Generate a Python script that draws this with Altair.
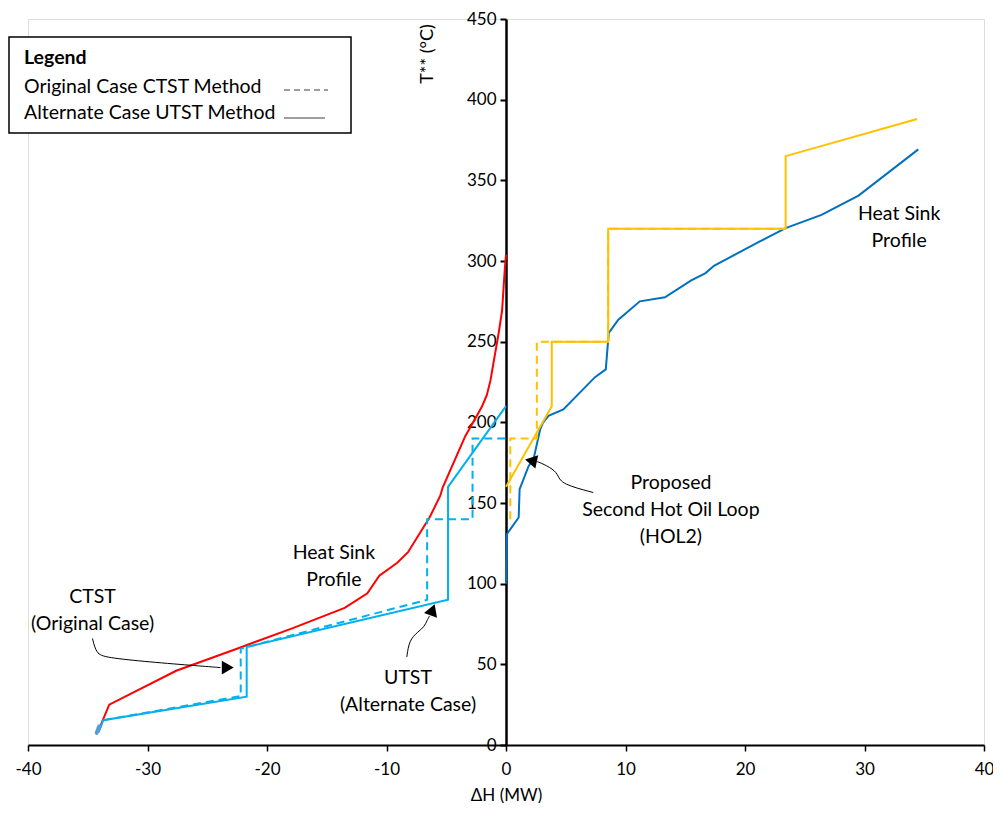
import altair as alt
import pandas as pd

# ---- data ----
hot_x = [-34.1, -33.2, -27.6, -22.4, -18.0, -13.5, -11.6, -10.6, -9.1, -8.2, -6.4, -5.5, -5.3, -3.4, -2.3, -2.0, -1.6, -1.3, -0.6, -0.33, -0.1, 0.0]
hot_y = [9, 25, 46, 60, 72, 85, 94, 105, 113, 119.5, 141, 154.5, 159.6, 191.6, 206, 210, 217, 226, 256, 269, 295, 304]

sink_x = [0.0, 0.08, 1.06, 1.14, 1.9, 2.3, 2.86, 3.1, 3.55, 4.8, 7.45, 8.35, 8.6, 9.4, 11.2, 13.3, 15.5, 16.7, 17.4, 21.2, 21.9, 23.4, 26.4, 29.5, 34.5]
sink_y = [100, 130.8, 141, 158.6, 173, 177, 195.7, 199.8, 204, 208, 228, 232.8, 255.4, 263.6, 275, 277.5, 288, 292.5, 297, 312, 314.6, 320.4, 328.6, 340.5, 369.2]

utst_cold_x = [-34.1, -33.7, -21.7, -21.7, -4.85, -4.85, 0.0]
utst_cold_y = [8, 15.4, 29.9, 60.8, 90, 160, 210]
ctst_cold_x = [-34.1, -33.7, -22.2, -22.2, -6.6, -6.6, -2.8, -2.8, 0.0]
ctst_cold_y = [8, 15.4, 30.3, 59.7, 90, 140, 140, 190, 190]

utst_hol_x = [0.0, 3.83, 3.83, 8.55, 8.55, 23.4, 23.4, 34.4]
utst_hol_y = [160, 210, 250, 250, 320, 320, 365, 388]
ctst_hol_x = [0.36, 0.36, 2.58, 2.58, 8.55, 8.55, 23.4]
ctst_hol_y = [140, 190, 190, 250, 250, 320, 320]

x_ticks = [-40, -30, -20, -10, 0, 10, 20, 30, 40]
y_ticks = [0, 50, 100, 150, 200, 250, 300, 350, 400, 450]

labels_text = ["Heat Sink\nProfile", "CTST\n(Original Case)", "UTST\n(Alternate Case)",
               "Proposed\nSecond Hot Oil Loop\n(HOL2)", "Heat Sink\nProfile"]
labels_x = [-14.4, -34.6, -8.2, 13.8, 32.9]
labels_y = [118.8, 92.0, 41.8, 162.1, 329.0]

arrow1_x = [-34.6, -34.3, -33.5, -29.9, -25.7, -23.9]
arrow1_y = [66, 56.7, 54.2, 51.5, 49.0, 48.0]
arrow2_x = [-8.3, -8.1, -7.4, -6.85, -6.6, -6.4]
arrow2_y = [54.6, 64.9, 70.0, 73.1, 77.3, 80.0]
arrow3_x = [7.3, 4.66, 4.38, 3.97, 2.85, 2.6]
arrow3_y = [156.5, 161.7, 166.9, 171.0, 175.1, 175.6]
head_x = [-23.45, -6.2, 2.25]
head_y = [48.0, 82.6, 176.0]
head_angle = [90, 20, 282]

legend_title = "Legend"
legend_items = ["Original Case CTST Method", "Alternate Case UTST Method"]

# ---- tables ----
def series(name, xs, ys, dash):
    return pd.DataFrame({"x": xs, "y": ys, "s": name, "i": range(len(xs)), "dash": dash})

lines = pd.concat([
    series("hot", hot_x, hot_y, "solid"),
    series("cold_ctst", ctst_cold_x, ctst_cold_y, "dash"),
    series("cold_utst", utst_cold_x, utst_cold_y, "solid"),
    series("sink", sink_x, sink_y, "solid"),
    series("hol_ctst", ctst_hol_x, ctst_hol_y, "dash"),
    series("hol_utst", utst_hol_x, utst_hol_y, "solid"),
], ignore_index=True)

color_scale = alt.Scale(
    domain=["hot", "cold_ctst", "cold_utst", "sink", "hol_ctst", "hol_utst"],
    range=["#FF0000", "#00B0F0", "#00B0F0", "#0070C0", "#FFC000", "#FFC000"],
)

FONT = "Lato"
TXT = 19.5
W, H = 956, 726
TOP = 11

xs = alt.Scale(domain=[-40, 40], nice=False, zero=False)
ys = alt.Scale(domain=[0, 450], nice=False)

x_axis = alt.Axis(values=x_ticks, labelExpr="datum.value", title="ΔH (MW)", grid=False, labelFlush=False,
                  domainColor="black", domainWidth=2, tickColor="black", tickSize=6, tickWidth=1.5,
                  labelFont=FONT, labelFontSize=17, labelColor="black", labelPadding=10,
                  titleFont=FONT, titleFontSize=17, titleFontWeight="normal", titleColor="black",
                  titlePadding=10)
y_axis = alt.Axis(values=y_ticks, title="", grid=False, offset=-W / 2, labelFlush=False,
                  domainColor="black", domainWidth=2.5, tickColor="black", tickSize=6, tickWidth=2,
                  labelFont=FONT, labelFontSize=17, labelColor="black", labelPadding=4)

base_lines = alt.Chart(lines)

solid = base_lines.transform_filter(alt.datum.dash == "solid").mark_line(strokeWidth=2).encode(
    x=alt.X("x:Q", scale=xs, axis=x_axis),
    y=alt.Y("y:Q", scale=ys, axis=y_axis),
    color=alt.Color("s:N", scale=color_scale, legend=None),
    detail="s:N",
    order="i:Q",
)
dashed = base_lines.transform_filter(alt.datum.dash == "dash").mark_line(strokeWidth=2, strokeDash=[8, 5]).encode(
    x=alt.X("x:Q", scale=xs),
    y=alt.Y("y:Q", scale=ys),
    color=alt.Color("s:N", scale=color_scale, legend=None),
    detail="s:N",
    order="i:Q",
)

start_blob = alt.Chart(pd.DataFrame({"x": [-34.25, -34.05], "y": [7.5, 11.5]})).mark_line(
    strokeWidth=4, color="#5B9BD5", strokeCap="round").encode(x=alt.X("x:Q", scale=xs), y=alt.Y("y:Q", scale=ys))

ann = alt.Chart(pd.DataFrame({"t": labels_text, "x": labels_x, "y": labels_y})).mark_text(
    font=FONT, fontSize=TXT, color="black", lineBreak="\n", lineHeight=27, baseline="middle", align="center"
).encode(x=alt.X("x:Q", scale=xs), y=alt.Y("y:Q", scale=ys), text="t:N")

arrows = pd.concat([
    pd.DataFrame({"x": arrow1_x, "y": arrow1_y, "a": 1, "i": range(len(arrow1_x))}),
    pd.DataFrame({"x": arrow2_x, "y": arrow2_y, "a": 2, "i": range(len(arrow2_x))}),
    pd.DataFrame({"x": arrow3_x, "y": arrow3_y, "a": 3, "i": range(len(arrow3_x))}),
], ignore_index=True)
arrow_lines = alt.Chart(arrows).mark_line(color="black", strokeWidth=1, interpolate="basis").encode(
    x=alt.X("x:Q", scale=xs), y=alt.Y("y:Q", scale=ys), detail="a:N", order="i:Q")
arrow_heads = alt.Chart(pd.DataFrame({"x": head_x, "y": head_y, "ang": head_angle})).mark_point(
    shape="triangle", filled=True, color="black", size=190, opacity=1).encode(
    x=alt.X("x:Q", scale=xs), y=alt.Y("y:Q", scale=ys), angle=alt.Angle("ang:Q", scale=None))

one = pd.DataFrame({"k": [0]})
y_title = alt.Chart(one).mark_text(text="T** (°C)", font=FONT, fontSize=18, color="black", angle=270,
                                   align="center", baseline="middle").encode(
    x=alt.value(428 - 8 - 20), y=alt.value(54 - 8 - TOP))

lx0 = 9 - 8 - 20
legend_box = alt.Chart(one).mark_rect(fill="white", stroke="black", strokeWidth=1.5).encode(
    x=alt.value(lx0), x2=alt.value(351 - 28), y=alt.value(37 - 8 - TOP), y2=alt.value(133 - 8 - TOP))
legend_head = alt.Chart(one).mark_text(text=legend_title, font=FONT, fontSize=TXT, fontWeight="bold",
                                       color="black", align="left", baseline="middle").encode(
    x=alt.value(-4), y=alt.value(58 - 8 - TOP))
legend_t1 = alt.Chart(one).mark_text(text=legend_items[0], font=FONT, fontSize=TXT, color="black",
                                     align="left", baseline="middle").encode(x=alt.value(-4), y=alt.value(87 - 8 - TOP))
legend_t2 = alt.Chart(one).mark_text(text=legend_items[1], font=FONT, fontSize=TXT, color="black",
                                     align="left", baseline="middle").encode(x=alt.value(-4), y=alt.value(113 - 8 - TOP))
legend_l1 = alt.Chart(one).mark_rule(color="#7F7F7F", strokeWidth=1.5, strokeDash=[6, 4]).encode(
    x=alt.value(256), x2=alt.value(300), y=alt.value(90 - 8 - TOP))
legend_l2 = alt.Chart(one).mark_rule(color="#7F7F7F", strokeWidth=1.5).encode(
    x=alt.value(256), x2=alt.value(297), y=alt.value(118 - 8 - TOP))

chart = alt.layer(
    solid, dashed, start_blob, arrow_lines, arrow_heads, ann, y_title,
    legend_box, legend_head, legend_t1, legend_t2, legend_l1, legend_l2,
).properties(
    width=W, height=H,
    autosize=alt.AutoSizeParams(type="none"),
    padding={"left": 20, "top": TOP, "right": 9, "bottom": 58},
).configure_view(stroke=None).configure(background="white")

chart.save("out.html", embed_options={"renderer": "svg", "actions": False})
